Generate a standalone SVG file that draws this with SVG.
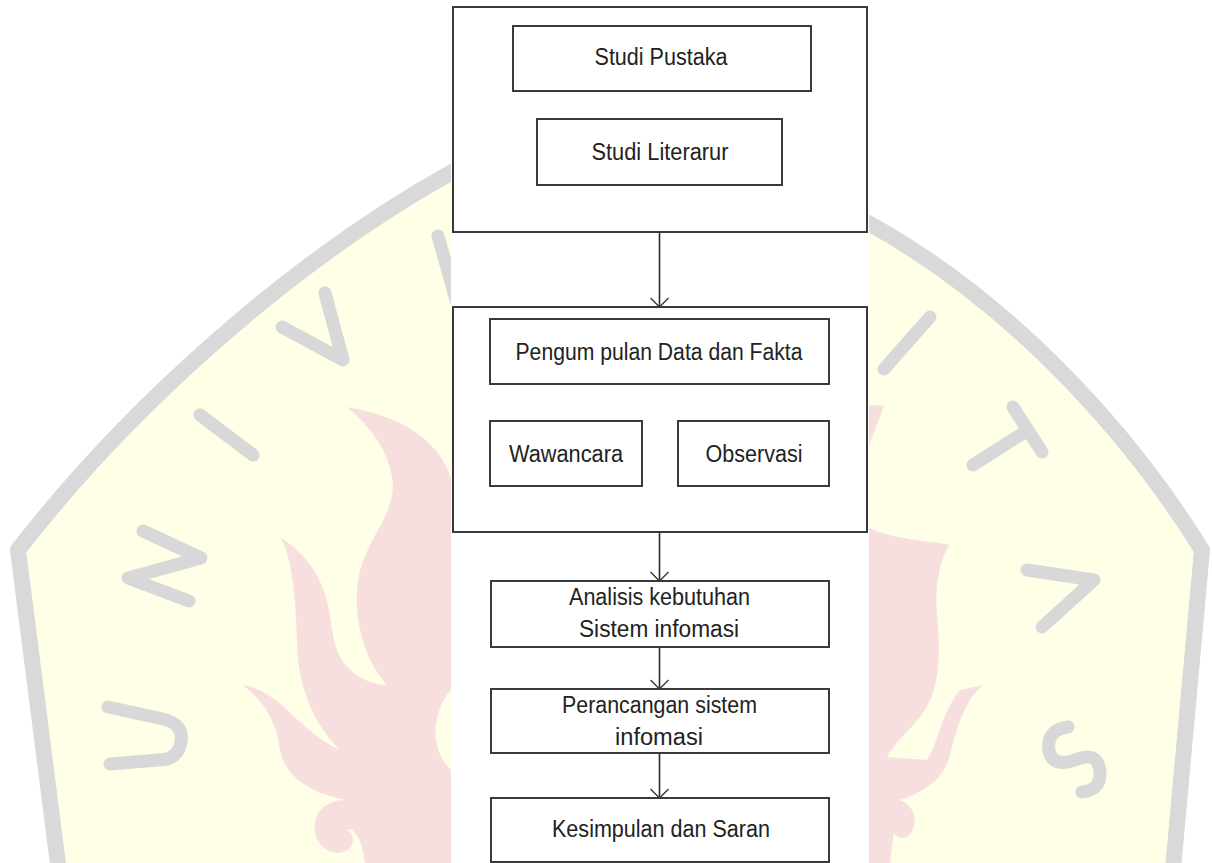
<svg xmlns="http://www.w3.org/2000/svg" width="1212" height="863" viewBox="0 0 1212 863">
<defs>
<style>
.box{fill:#ffffff;stroke:#3a3a3a;stroke-width:2}
.lbl{font-family:"Liberation Sans",Arial,sans-serif;font-size:23px;fill:#222222;text-anchor:middle}
.conn{stroke:#2a2a2a;stroke-width:1.6;fill:none;marker-end:url(#arr)}
.wm{fill:none;stroke:#d8d8d8;stroke-width:13;stroke-linecap:round;stroke-linejoin:round}
.flame{fill:#f7dfdf}
</style>
<marker id="arr" viewBox="0 0 20 20" refX="10" refY="10" markerWidth="20" markerHeight="20" markerUnits="userSpaceOnUse" orient="auto">
<path d="M1,1 L10,10 L1,19" fill="none" stroke="#3a3a3a" stroke-width="1.4"/>
</marker>
</defs>
<rect x="0" y="0" width="1212" height="863" fill="#ffffff"/>
<g id="watermark">
<path d="M60,880 L18,550 C120,418 280,268 452,172 C560,115 760,165 870,224 C1000,296 1120,418 1202,550 L1172,880 Z" fill="#fffee6" stroke="#d9d9d9" stroke-width="16" stroke-linejoin="round"/>
<path class="flame" d="M451,478 C440,445 410,418 347,407 C372,428 392,455 393,487 C392,520 360,545 357,590 C355,630 368,665 387,685 C362,684 340,668 334,640 C328,610 330,570 280,537 C292,555 296,600 297,640 C297,680 310,720 340,750 C318,740 300,722 287,710 C275,698 260,688 243,685 C262,700 276,720 279,745 C282,770 300,790 345,800 C322,800 310,818 316,836 C321,852 340,858 350,848 C356,840 352,830 345,830 C355,826 362,840 365,863 L451,863 Z"/>
<path d="M451,690 C440,700 432,728 437,745 C440,758 446,765 451,770 Z" fill="#fffee6"/>
<path class="flame" d="M869,405 L884,406 L869,445 Z"/>
<path class="flame" d="M869,528 C895,540 925,540 950,545 C938,560 935,590 937,615 C940,650 942,690 920,717 C905,735 893,745 887,757 L927,760 C938,745 940,715 960,690 L983,685 C965,700 957,727 950,755 C945,775 930,790 900,800 C915,805 920,825 908,836 C898,842 890,832 895,824 L890,863 L869,863 Z"/>
<path class="wm" d="M108,707 L163,719 Q184,724 181,742 Q178,760 158,760 L110,764"/>
<path class="wm" d="M143,531 L201,558 L128,578 L189,601"/>
<path class="wm" d="M200,415 L253,455"/>
<path class="wm" d="M282,327 L343,360 L325,293"/>
<path class="wm" d="M438,236 L456,300"/>
<path class="wm" d="M930,317 L884,369"/>
<path class="wm" d="M1013,407 L1042,452 M1028,430 L973,465"/>
<path class="wm" d="M1027,570 L1094,580 L1042,627"/>
<path class="wm" d="M1068,727 Q1046,730 1049,751 Q1053,768 1075,760 Q1098,750 1100,772 Q1101,790 1082,792"/>
<rect x="451" y="0" width="418" height="863" fill="#ffffff"/>
</g>
<g id="connectors">
<line class="conn" x1="659.5" y1="232" x2="659.5" y2="307"/>
<line class="conn" x1="659.5" y1="532" x2="659.5" y2="581"/>
<line class="conn" x1="659.5" y1="647" x2="659.5" y2="689"/>
<line class="conn" x1="659.5" y1="753" x2="659.5" y2="798"/>
</g>
<g id="group-studi">
<rect class="box" x="453" y="7" width="414" height="225"/>
</g>
<g id="studi-pustaka">
<rect class="box" x="513" y="26" width="298" height="65"/>
<text class="lbl" x="661" y="65" textLength="133" lengthAdjust="spacingAndGlyphs">Studi Pustaka</text>
</g>
<g id="studi-literarur">
<rect class="box" x="537" y="119" width="245" height="66"/>
<text class="lbl" x="660" y="160" textLength="137" lengthAdjust="spacingAndGlyphs">Studi Literarur</text>
</g>
<g id="group-pengumpulan">
<rect class="box" x="453" y="307" width="414" height="225"/>
</g>
<g id="pengumpulan">
<rect class="box" x="490" y="319" width="339" height="65"/>
<text class="lbl" x="659" y="360" textLength="287" lengthAdjust="spacingAndGlyphs">Pengum pulan Data dan Fakta</text>
</g>
<g id="wawancara">
<rect class="box" x="490" y="421" width="152" height="65"/>
<text class="lbl" x="566" y="462" textLength="114" lengthAdjust="spacingAndGlyphs">Wawancara</text>
</g>
<g id="observasi">
<rect class="box" x="678" y="421" width="151" height="65"/>
<text class="lbl" x="754" y="462" textLength="97" lengthAdjust="spacingAndGlyphs">Observasi</text>
</g>
<g id="analisis">
<rect class="box" x="491" y="581" width="338" height="66"/>
<text class="lbl" x="659.5" y="605" textLength="181" lengthAdjust="spacingAndGlyphs">Analisis kebutuhan</text>
<text class="lbl" x="659" y="637" textLength="160" lengthAdjust="spacingAndGlyphs">Sistem infomasi</text>
</g>
<g id="perancangan">
<rect class="box" x="491" y="689" width="338" height="64"/>
<text class="lbl" x="659.5" y="713" textLength="195" lengthAdjust="spacingAndGlyphs">Perancangan sistem</text>
<text class="lbl" x="659" y="745" textLength="88" lengthAdjust="spacingAndGlyphs">infomasi</text>
</g>
<g id="kesimpulan">
<rect class="box" x="491" y="798" width="338" height="64"/>
<text class="lbl" x="661" y="837" textLength="218" lengthAdjust="spacingAndGlyphs">Kesimpulan dan Saran</text>
</g>
</svg>
